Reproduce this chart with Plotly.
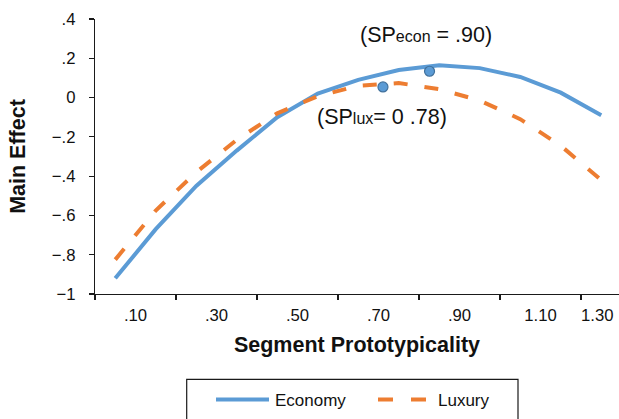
import plotly.graph_objects as go

# ---- data ----
sp_points = [0.05, 0.15, 0.25, 0.35, 0.45, 0.55, 0.65, 0.75, 0.85, 0.95, 1.05, 1.15, 1.25]
economy = [-0.92, -0.67, -0.45, -0.27, -0.10, 0.02, 0.09, 0.14, 0.165, 0.15, 0.105, 0.025, -0.09]
luxury = [-0.825, -0.575, -0.38, -0.215, -0.08, 0.007, 0.06, 0.074, 0.043, -0.015, -0.11, -0.245, -0.42]
optima_x = [0.826, 0.711]
optima_y = [0.134, 0.054]
x_tick_pos = [0.1, 0.3, 0.5, 0.7, 0.9, 1.1, 1.24]
x_tick_text = [".10", ".30", ".50", ".70", ".90", "1.10", "1.30"]
x_mark_pos = [0.0, 0.2, 0.4, 0.6, 0.8, 1.0, 1.2]
y_tick_vals = [0.4, 0.2, 0.0, -0.2, -0.4, -0.6, -0.8, -1.0]
y_tick_text = [".4", ".2", "0", "\u2212.2", "\u2212.4", "\u2212.6", "\u2212.8", "\u22121"]
series_names = ["Economy", "Luxury"]

BLUE = "#5B9BD5"
ORANGE = "#ED7D31"
FONT = "Liberation Sans, Arial, Helvetica, sans-serif"
AX = "#1a1a1a"

W, H = 619, 419
ML, MR, MT, MB = 95, 0, 19, 125
PW, PH = W - ML - MR, H - MT - MB


def px(x):
    return (x - ML) / PW


def py(y):
    return (H - MB - y) / PH


fig = go.Figure()
fig.add_trace(go.Scatter(x=sp_points, y=economy, mode="lines", name=series_names[0],
                         line=dict(color=BLUE, width=4), showlegend=False))
fig.add_trace(go.Scatter(x=sp_points, y=luxury, mode="lines", name=series_names[1],
                         line=dict(color=ORANGE, width=4, dash="14px,17px"), showlegend=False))
fig.add_trace(go.Scatter(x=optima_x, y=optima_y, mode="markers", showlegend=False,
                         marker=dict(color=BLUE, size=10, line=dict(color="#41719C", width=1.2))))

fig.add_annotation(x=0.817, y=0.318, xref="x", yref="y", showarrow=False,
                   text="(SP<span style='font-size:16px'>econ</span> = .90)",
                   font=dict(family=FONT, size=21.5, color="#111"))
fig.add_annotation(x=0.708, y=-0.099, xref="x", yref="y", showarrow=False,
                   text="(SP<span style='font-size:16px'>lux</span>= 0 .78)",
                   font=dict(family=FONT, size=21.5, color="#111"))

# legend drawn manually (box, samples, labels)
fig.add_shape(type="rect", xref="paper", yref="paper",
              x0=px(186.7), x1=px(518), y0=py(379.3), y1=py(440),
              line=dict(color=AX, width=1.2), fillcolor="rgba(0,0,0,0)")
fig.add_shape(type="line", xref="paper", yref="paper",
              x0=px(216), x1=px(269), y0=py(399.5), y1=py(399.5),
              line=dict(color=BLUE, width=4))
fig.add_shape(type="line", xref="paper", yref="paper",
              x0=px(378), x1=px(427), y0=py(399.5), y1=py(399.5),
              line=dict(color=ORANGE, width=4, dash="15px,18px"))
fig.add_annotation(x=px(273), y=py(400), xref="paper", yref="paper", showarrow=False,
                   xanchor="left", yanchor="middle", text=series_names[0],
                   font=dict(family=FONT, size=17, color="#111"))
fig.add_annotation(x=px(436), y=py(400), xref="paper", yref="paper", showarrow=False,
                   xanchor="left", yanchor="middle", text=series_names[1],
                   font=dict(family=FONT, size=17, color="#111"))

fig.update_layout(
    width=W, height=H,
    margin=dict(l=ML, r=MR, t=MT, b=MB, autoexpand=False),
    paper_bgcolor="white", plot_bgcolor="white",
    font=dict(family=FONT, size=16.7, color="#111"),
    showlegend=False,
)
fig.update_xaxes(
    range=[0, PW / 405.0], showgrid=False, zeroline=False,
    showline=True, linecolor=AX, linewidth=1.2,
    tickmode="array", tickvals=x_tick_pos, ticktext=x_tick_text, ticks="",
    ticklabelstandoff=6,
    minor=dict(tickmode="array", tickvals=x_mark_pos, ticks="outside", ticklen=5,
               tickwidth=1.2, tickcolor=AX, showgrid=False),
    title=dict(text="<b>Segment Prototypicality</b>", font=dict(family=FONT, size=21.5, color="#111"),
               standoff=12),
    automargin=False,
)
fig.update_yaxes(
    range=[-1, 0.4], showgrid=False, zeroline=False,
    showline=True, linecolor=AX, linewidth=1.2,
    tickmode="array", tickvals=y_tick_vals, ticktext=y_tick_text,
    ticks="outside", ticklen=5, tickwidth=1.2, tickcolor=AX,
    ticklabelstandoff=10,
    title=dict(text="<b>Main Effect</b>", font=dict(family=FONT, size=21.5, color="#111"),
               standoff=20),
    automargin=False,
)

fig.write_html("out.html", config={"displayModeBar": False, "staticPlot": True},
               post_script="document.body.style.margin='0';document.body.style.overflow='hidden';")
